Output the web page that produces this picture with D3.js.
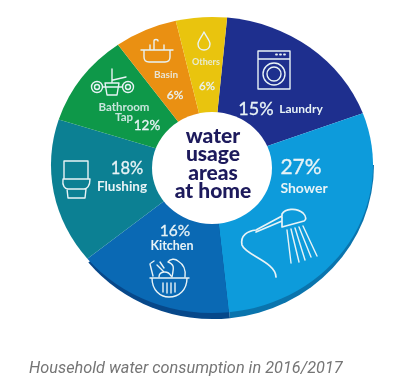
<!DOCTYPE html>
<html>
<head>
<meta charset="utf-8">
<style>
html, body { margin: 0; padding: 0; background: #fff; }
svg { display: block; filter: blur(0.35px); }
</style>
<script src="https://cdn.jsdelivr.net/npm/d3@7/dist/d3.min.js"></script>
</head>
<body>
<div id="chart-container"></div>
<script>
// values printed on the wheel
const categories = ["Laundry", "Shower", "Kitchen", "Flushing", "Bathroom Tap", "Basin", "Others"];
const percents = [15, 27, 16, 18, 12, 6, 6];
// the wedges are not drawn to scale in the picture, so their sweep is read off separately (degrees)
const drawnSweep = [64.2, 104.4, 56.7, 57.2, 36.4, 22.7, 18.4];
const colors = ["#1e2f8e", "#0d9bdb", "#0a69b4", "#0c8093", "#0e9849", "#ea9012", "#e9c40e"];
const edgeColors = ["#1e2f8e", "#0a74ad", "#07488a", "#0c8093", "#0e9849", "#ea9012", "#e9c40e"];
const centerLines = ["water", "usage", "areas", "at home"];
const caption = "Household water consumption in 2016/2017";

const width = 400;
const height = 387;
const cx = 212;
const cy = 165;
const rx = 161;
const ry = 148;
const rimDepth = 6;
const startDeg = 5.4;

const svg = d3.select("#chart-container")
    .append("svg")
    .attr("width", width)
    .attr("height", height)
    .style("font-family", "Lato, sans-serif");

const pie = d3.pie()
    .sort(null)
    .value((d, i) => drawnSweep[i])
    .startAngle(startDeg * Math.PI / 180)
    .endAngle((startDeg + 360) * Math.PI / 180);

const slices = pie(categories);
const arc = d3.arc().innerRadius(0).outerRadius(1);

// lower rim: a taller copy of shower and kitchen, starting at the widest point so it tapers away
svg.append("g")
    .attr("transform", `translate(${cx + 1},${cy}) scale(${rx},${ry + rimDepth})`)
    .selectAll("path")
    .data(slices.filter(d => d.data === "Shower" || d.data === "Kitchen"))
    .enter()
    .append("path")
    .attr("d", d => arc({ ...d, startAngle: Math.max(d.startAngle, Math.PI / 2) }))
    .attr("fill", d => edgeColors[d.index]);

svg.append("g")
    .attr("transform", `translate(${cx},${cy}) scale(${rx},${ry})`)
    .selectAll("path")
    .data(slices)
    .enter()
    .append("path")
    .attr("d", arc)
    .attr("fill", (d, i) => colors[i]);

// hole
svg.append("ellipse")
    .attr("cx", 212)
    .attr("cy", 168)
    .attr("rx", 60)
    .attr("ry", 56)
    .attr("fill", "#fff");

svg.append("g")
    .selectAll("text")
    .data(centerLines)
    .enter()
    .append("text")
    .attr("x", 213)
    .attr("y", (d, i) => 143 + i * 18.3)
    .attr("text-anchor", "middle")
    .style("font-size", "21px")
    .style("font-weight", 900)
    .style("fill", "#1d1a5c")
    .text(d => d);

// labels: [x, y, size] for name and for percent
const nameSpots = [[301, 113, 12], [304, 193, 14], [172, 250, 12.5], [122, 191, 13.5], [124, 110.5, 11.5], [166, 78, 10], [206, 65, 9]];
const pctSpots = [[256, 115, 18], [301, 174, 21], [175, 236, 15.5], [127, 174, 16.5], [147, 130, 13.5], [175, 99, 12], [207, 90, 11.5]];

const labels = svg.append("g").style("fill", "#e8f3f6").attr("text-anchor", "middle");

categories.forEach((name, i) => {
    const [nx, ny, ns] = nameSpots[i];
    name.split(" ").forEach((word, k) => {
        labels.append("text")
            .attr("x", nx)
            .attr("y", ny + k * 10.5)
            .style("font-size", ns + "px")
            .style("font-weight", 700)
            .style("opacity", ns < 12 ? 0.85 : 1)
            .text(word);
    });
    const [px, py, ps] = pctSpots[i];
    labels.append("text")
        .attr("x", px)
        .attr("y", py)
        .style("font-size", ps + "px")
        .style("font-weight", 400)
        .style("stroke", "#e8f3f6")
        .style("stroke-width", 0.3)
        .text(percents[i] + "%");
});

// icons
const icons = svg.append("g")
    .attr("fill", "none")
    .attr("stroke", "#e8f3f6")
    .attr("stroke-width", 1.4)
    .attr("stroke-linecap", "round")
    .attr("stroke-linejoin", "round");

// washing machine
icons.append("path").attr("d", "M258,51H290V89H258Z M258,59H290");
icons.append("path").attr("d", "M276,54.5h1 M280,54.5h1 M284,54.5h1").attr("stroke-width", 1.8);
icons.append("circle").attr("cx", 274).attr("cy", 74).attr("r", 11);
icons.append("circle").attr("cx", 274).attr("cy", 74).attr("r", 7);

// shower
icons.append("path")
    .attr("stroke-width", 1.7)
    .attr("d", "M276,277C276,262 245,255 242,245C240,235 248,231 256,230L282,216 M256,232L282,221 M282,214C285,209 296,207 303,213C307,217 306,220 304,221L282,227Z");
icons.append("path").attr("d", "M287,230L291,263 M291,229L299,262 M295,228L305,260 M299,227L311,257 M303,226L317,256");

// basket with vegetables
icons.append("path").attr("d", "M150,278H189 M152,278C152,290 160,297 169,297C179,297 187,290 187,278 M163,283V292 M167,283V293 M171,283V293 M175,283V292");
icons.append("path").attr("d", "M153,276L150,264 M151,263L154,261 M159,277C159,271 168,270 171,276 M172,277C173,270 176,265 168,262C170,259 175,258 178,261C183,264 186,270 185,277 M157,265L163,271 M160,262L164,268");

// toilet
icons.append("path").attr("d", "M64,161H88V179H64Z M63,179H90C90,186 87,189 84,189H68C65,189 62,186 63,179Z M67,189L68,198H85L86,189");

// tap
icons.append("path").attr("d", "M112,69V82 M113,80L126,77 M103,87H122 M105,83H119L117,95H107Z");
icons.append("circle").attr("cx", 97).attr("cy", 87).attr("r", 5.5);
icons.append("circle").attr("cx", 128).attr("cy", 87).attr("r", 5.5);
icons.append("circle").attr("cx", 97).attr("cy", 87).attr("r", 2.5);
icons.append("circle").attr("cx", 128).attr("cy", 87).attr("r", 2.5);

// basin
icons.append("path").attr("d", "M141,50H173 M144,50V57C144,60 146,62 149,62H165C168,62 170,60 170,57V50 M154,49V41C154,39 158,39 158,41 M150,45V49 M164,45V49");

// drop
icons.append("path").attr("d", "M204,32C201,38 198,41 198,44C198,48 201,50 204,50C207,50 210,48 210,44C210,41 207,38 204,32Z");

svg.append("text")
    .attr("x", 29)
    .attr("y", 373)
    .style("font-family", "Roboto, sans-serif")
    .style("font-style", "italic")
    .style("font-size", "16.3px")
    .style("fill", "#757575")
    .text(caption);
</script>
</body>
</html>
